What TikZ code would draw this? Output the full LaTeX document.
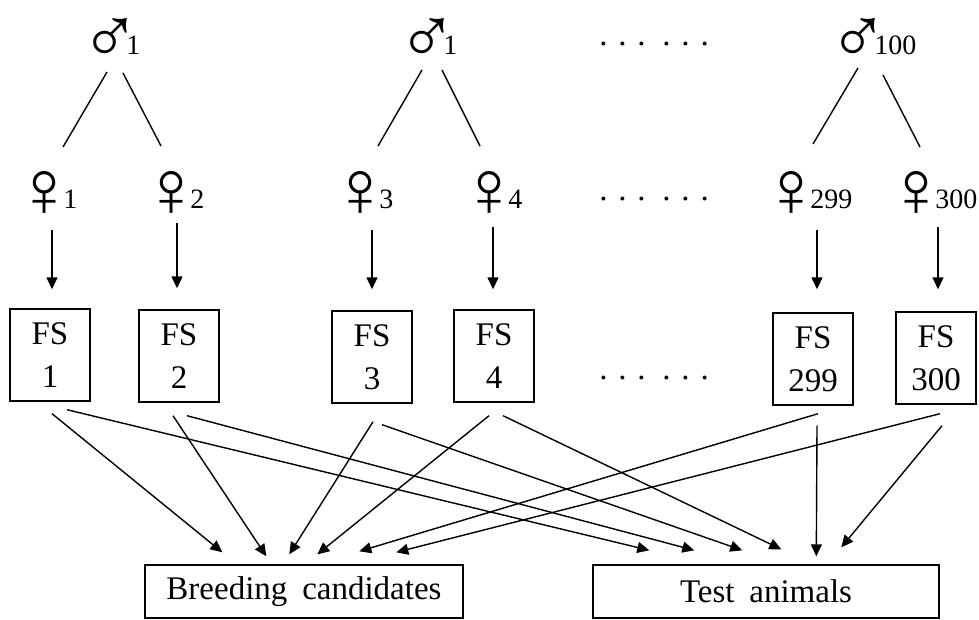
\documentclass[tikz,border=0pt]{standalone}
\usepackage{fontspec}
\setmainfont{Liberation Serif}
\usetikzlibrary{arrows.meta, calc}

\newcommand{\malesym}{\kern-6.5pt\raisebox{-4.3pt}{\fontsize{40}{40}\selectfont ♂}\kern-7pt}
\newcommand{\femsym}{\kern-9pt\raisebox{-3.8pt}{\fontsize{40}{40}\selectfont ♀}\kern-5.5pt}
\newcommand{\dotrow}{.\hspace{5.4pt}.\hspace{5.4pt}.\hspace{8.4pt}.\hspace{5.4pt}.\hspace{5.4pt}.}

\begin{document}
\begin{tikzpicture}[
    x=0.5pt, y=-0.5pt,
    font=\fontsize{16.5}{21.5}\selectfont,
    parent/.style = {anchor=base west, inner sep=0pt, font=\fontsize{14}{16}\selectfont},
    fsbox/.style = {rectangle, draw, line width=0.7pt, minimum width=40pt, minimum height=46pt, align=center, inner sep=0pt},
    group/.style = {rectangle, draw, line width=0.7pt, minimum height=26.5pt, inner sep=0pt, execute at begin node={\spaceskip=0.45em\relax}},
    line/.style = {draw, line width=0.7pt},
    arrow/.style = {draw, line width=0.7pt, -{Triangle[length=6pt,width=5.5pt]}},
    dotrow/.style = {inner sep=0pt}
]
\useasboundingbox (0,0) rectangle (979,620);

% Sires
\node [parent] (m1) at (93,55) {\malesym 1};
\node [parent] (m2) at (410,55) {\malesym 1};
\node [parent] (m100) at (841,55) {\malesym 100};

% Dams
\node [parent] (f1) at (32,209) {\femsym 1};
\node [parent] (f2) at (159,209) {\femsym 2};
\node [parent] (f3) at (348,209) {\femsym 3};
\node [parent] (f4) at (477,209) {\femsym 4};
\node [parent] (f299) at (779,209) {\femsym 299};
\node [parent] (f300) at (904,209) {\femsym 300};

% Full-sib families
\node [fsbox] (fs1) at (50,355) {FS\\1};
\node [fsbox] (fs2) at (179,356) {FS\\2};
\node [fsbox] (fs3) at (372,357) {FS\\3};
\node [fsbox] (fs4) at (494,356) {FS\\4};
\node [fsbox] (fs299) at (813,359) {FS\\299};
\node [fsbox] (fs300) at (936,358) {FS\\300};

% Dots
\node [dotrow] (dtop) at (654,44) {\dotrow};
\node [dotrow] (dmid) at (654,199) {\dotrow};
\node [dotrow] (dbot) at (654,378) {\dotrow};

% Groups
\node [group, minimum width=159pt] (bc) at (304,591.5) {Breeding candidates};
\node [group, minimum width=173pt] (ta) at (766,591.5) {Test animals};

% Matings
\path [line] ($(m1.base west)+(14,17)$) -- ($(f1.base west)+(31,-62)$);
\path [line] ($(m1.base west)+(30,18)$) -- ($(f2.base west)+(2,-63)$);
\path [line] ($(m2.base west)+(12,15)$) -- ($(f3.base west)+(30,-63)$);
\path [line] ($(m2.base west)+(32,15)$) -- ($(f4.base west)+(3,-63)$);
\path [line] ($(m100.base west)+(17,13)$) -- ($(f299.base west)+(34,-65)$);
\path [line] ($(m100.base west)+(42,20)$) -- ($(f300.base west)+(16,-62)$);

% Dam to family
\path [arrow] ($(f1.base west -| fs1.north)+(2,21)$) -- ($(fs1.north)+(2,-19)$);
\path [arrow] ($(f2.base west -| fs2.north)+(-2,14)$) -- ($(fs2.north)+(-2,-21)$);
\path [arrow] ($(f3.base west -| fs3.north)+(0,21)$) -- ($(fs3.north)+(0,-21)$);
\path [arrow] ($(f4.base west -| fs4.north)+(-1,18)$) -- ($(fs4.north)+(-1,-20)$);
\path [arrow] ($(f299.base west -| fs299.north)+(4,21)$) -- ($(fs299.north)+(4,-23)$);
\path [arrow] ($(f300.base west -| fs300.north)+(2,18)$) -- ($(fs300.north)+(2,-22)$);

% Family to groups
\path [arrow] ($(fs1.south)+(2,12)$) -- ($(bc.north west)+(78,-12)$);
\path [arrow] ($(fs1.south)+(17,8)$) -- ($(ta.north west)+(57,-14)$);
\path [arrow] ($(fs2.south)+(-6,13)$) -- ($(bc.north west)+(122,-8)$);
\path [arrow] ($(fs2.south)+(8,13)$) -- ($(ta.north west)+(102,-14)$);
\path [arrow] ($(fs3.south)+(1,18)$) -- ($(bc.north west)+(145,-10)$);
\path [arrow] ($(fs3.south)+(10,21)$) -- ($(ta.north west)+(150,-14)$);
\path [arrow] ($(fs4.south)+(-5,13)$) -- ($(bc.north west)+(173,-10)$);
\path [arrow] ($(fs4.south)+(9,13)$) -- ($(ta.north west)+(189,-15)$);
\path [arrow] ($(fs299.south)+(5,8)$) -- ($(bc.north west)+(215,-13)$);
\path [arrow] ($(fs299.south)+(4,20)$) -- ($(ta.north west)+(224,-8)$);
\path [arrow] ($(fs300.south)+(4,9)$) -- ($(bc.north west)+(252,-12)$);
\path [arrow] ($(fs300.south)+(6,21)$) -- ($(ta.north west)+(249,-17)$);

\end{tikzpicture}
\end{document}
